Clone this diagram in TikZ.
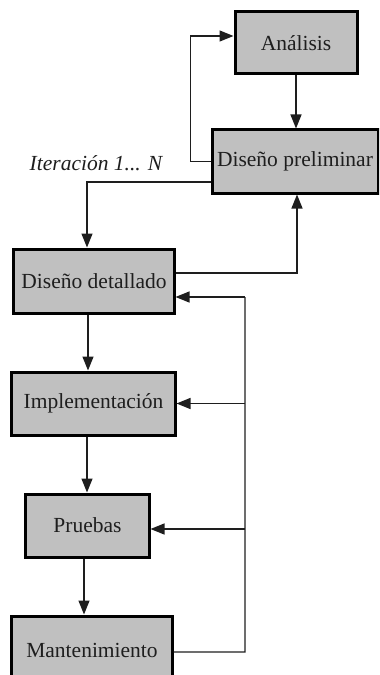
\documentclass[tikz,border=0pt]{standalone}
\usepackage{fontspec}
\setmainfont{Liberation Serif}
\usetikzlibrary{arrows.meta}
\definecolor{boxgray}{HTML}{C0C0C0}
\definecolor{ink}{HTML}{1E1E1E}
\begin{document}
\begin{tikzpicture}[x=1bp,y=-1bp,
  phase/.style={draw=black,line width=3bp,fill=boxgray,text=ink,
    inner sep=0pt,font=\fontsize{21.5bp}{24bp}\selectfont},
  conn/.style={draw=ink,line width=1.3bp},
  arr/.style={conn,-{Triangle[length=14bp,width=11bp]}}]
\useasboundingbox (0,0) rectangle (379,675);
\clip (0,0) rectangle (379,675);
% phases of the life cycle
\node[phase,minimum width=122bp,minimum height=62bp] (AN) at (296,43) {Análisis};
\node[phase,minimum width=166bp,minimum height=63bp] (DP) at (295,161.5) {Diseño preliminar};
\node[phase,minimum width=160bp,minimum height=64bp] (DD) at (94,281) {Diseño detallado};
\node[phase,minimum width=163bp,minimum height=63bp] (IM) at (93.5,403.5) {Implementación};
\node[phase,minimum width=123bp,minimum height=63bp] (PR) at (87.5,525.5) {Pruebas};
\node[phase,minimum width=160bp,minimum height=68bp] (MA) at (92,650) {Mantenimiento};
\node[text=ink,font=\fontsize{21.5bp}{24bp}\selectfont\itshape,anchor=center] (IT) at (96,163) {Iteración 1... N};
% iteration loop back to analysis
\draw[arr] (DP.west) -- ++(-20,0) |- ([yshift=7bp]AN.west);
\draw[arr] (AN.south) -- (AN.south |- DP.north);
% preliminary <-> detailed design
\draw[arr] ([yshift=-20.5bp]DP.west) -| ([xshift=-7bp]DD.north);
\draw[arr] ([yshift=8bp]DD.east) -| ([xshift=2bp]DP.south);
% main sequence
\draw[arr] ([xshift=-6bp]DD.south) -- ([xshift=-6bp]DD.south |- IM.north);
\draw[arr] ([xshift=-6.5bp]IM.south) -- ([xshift=-6.5bp]IM.south |- PR.north);
\draw[arr] ([xshift=-3.5bp]PR.south) -- ([xshift=-3.5bp]PR.south |- MA.north);
% feedback from maintenance
\coordinate (FB) at (245,652);
\coordinate (FBtop) at ([yshift=-16bp]DD.east -| FB);
\draw[conn] ([yshift=-2bp]MA.east) -- (FB) -- (FBtop);
\draw[arr] (FB |- IM.east) -- (IM.east);
\draw[arr] ([yshift=-3.5bp]PR.east -| FB) -- ([yshift=-3.5bp]PR.east);
\draw[arr] (FBtop) -- ([yshift=-16bp]DD.east);
\end{tikzpicture}
\end{document}
